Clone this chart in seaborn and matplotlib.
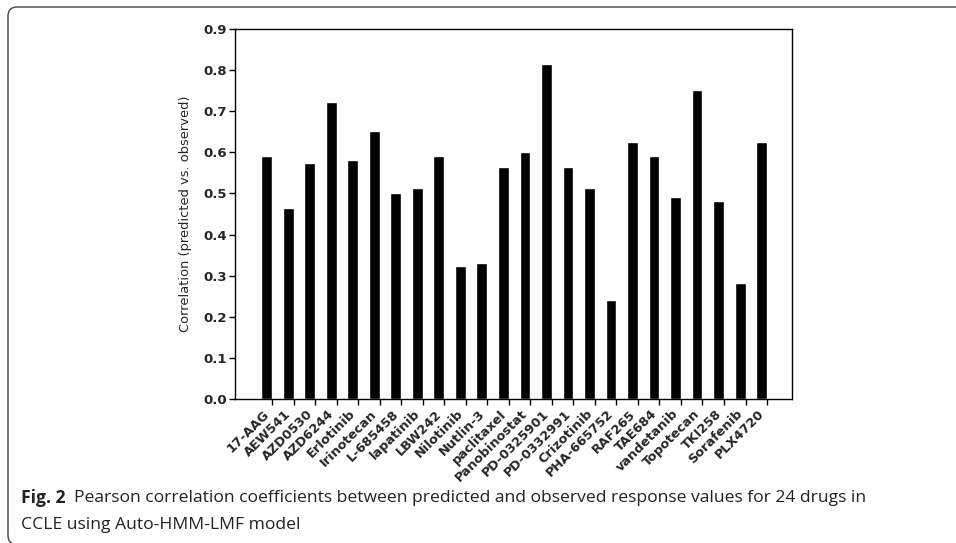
import matplotlib
matplotlib.use("Agg")
import matplotlib.pyplot as plt
from matplotlib.patches import FancyBboxPatch
from matplotlib.transforms import IdentityTransform
import seaborn as sns
import numpy as np
import pandas as pd

drugs = ["17-AAG", "AEW541", "AZD0530", "AZD6244", "Erlotinib", "Irinotecan",
         "L-685458", "lapatinib", "LBW242", "Nilotinib", "Nutlin-3", "paclitaxel",
         "Panobinostat", "PD-0325901", "PD-0332991", "Crizotinib", "PHA-665752",
         "RAF265", "TAE684", "vandetanib", "Topotecan", "TKI258", "Sorafenib", "PLX4720"]
correlation = [0.592, 0.464, 0.573, 0.723, 0.582, 0.651, 0.501, 0.513, 0.592, 0.323, 0.332, 0.564,
               0.601, 0.814, 0.564, 0.513, 0.241, 0.624, 0.592, 0.491, 0.752, 0.482, 0.282, 0.624]
y_ticks = [0.0, 0.1, 0.2, 0.3, 0.4, 0.5, 0.6, 0.7, 0.8, 0.9]

caption_bold = "Fig. 2"
caption_text = ("Pearson correlation coefficients between predicted and observed response values for 24 drugs in\n"
                "CCLE using Auto-HMM-LMF model")

df = pd.DataFrame({"drug": drugs, "corr": correlation})

sns.set_style("white")
plt.rcParams["font.family"] = ["DejaVu Sans"]

fig = plt.figure(figsize=(9.56, 5.43), dpi=100)
ax = fig.add_axes([235 / 956, 1 - 399 / 543, (792 - 235) / 956, (399 - 29) / 543])

sns.barplot(data=df, x="drug", y="corr", color="black", width=0.5,
            saturation=1, ax=ax, errorbar=None)

# ticks sit at the right edge of each bar, as in the original
pos = np.arange(len(drugs))
ax.set_xticks(pos + 0.25)
ax.set_xticklabels(drugs, rotation=45, ha="right", fontweight="bold", fontsize=9.3)
ax.set_xlim(-1.47, 24.41)
ax.set_ylim(0, 0.9)
ax.set_yticks(y_ticks)
ax.set_yticklabels([f"{v:.1f}" for v in y_ticks], fontweight="bold", fontsize=9.5)
ax.set_xlabel("")
ax.set_ylabel("Correlation (predicted vs. observed)", fontsize=9.4, labelpad=8)
ax.tick_params(axis="both", direction="out", length=4, width=1, color="black",
               bottom=True, left=True, pad=2)
for s in ax.spines.values():
    s.set_visible(True)
    s.set_color("black")
    s.set_linewidth(1)

# rounded frame in pixel coords; right and bottom edges run just off the image
frame = FancyBboxPatch((8, -1.5), 1000, 543 - 7 + 1.5,
                       boxstyle="round,pad=0,rounding_size=9",
                       transform=IdentityTransform(), fill=False,
                       edgecolor="#444444", linewidth=1.0, clip_on=False)
fig.patches.append(frame)

t1 = fig.text(21 / 956, 1 - 498 / 543, caption_bold, fontsize=12.6, fontweight="bold",
              family="Open Sans", va="center", color="#222222")
fig.canvas.draw()
bb = t1.get_window_extent()
x2 = (bb.x1 + 8) / 956
fig.text(x2, 1 - 498 / 543, caption_text.split("\n")[0], fontsize=12.6,
         family="Open Sans", va="center", color="#222222")
fig.text(21 / 956, 1 - 525 / 543, caption_text.split("\n")[1], fontsize=12.6,
         family="Open Sans", va="center", color="#222222")

fig.savefig("out.png", dpi=100)
